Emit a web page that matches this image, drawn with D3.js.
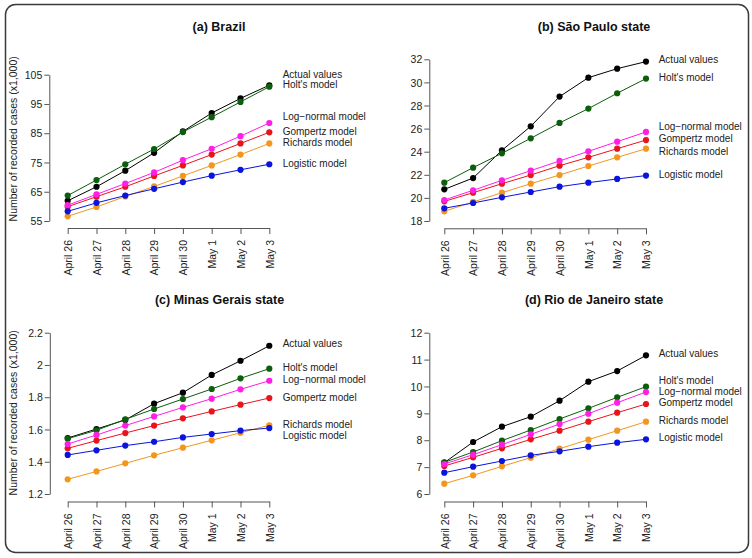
<!DOCTYPE html>
<html>
<head>
<meta charset="utf-8">
<script src="https://cdn.jsdelivr.net/npm/d3@7"></script>
<style>
  html, body { margin: 0; padding: 0; background: #fff; }
  svg text { font-family: "Liberation Sans", Arial, Helvetica, sans-serif; fill: #222; }
</style>
</head>
<body>
<svg id="chart" width="752" height="558"></svg>
<script>
// ---------- DATA ----------
const dates = ["April 26", "April 27", "April 28", "April 29", "April 30", "May 1", "May 2", "May 3"];
const seriesNames = ["Actual values", "Holt's model", "Log\u2212normal model", "Gompertz model", "Richards model", "Logistic model"];
const seriesColors = ["#000000", "#0b5e0b", "#ff1ee6", "#e8141c", "#f2961e", "#0a14dc"];

// (a) Brazil
const brazilActual    = [61.9, 66.7, 72.2, 78.3, 85.6, 91.9, 96.9, 101.4];
const brazilHolt      = [63.7, 69.0, 74.4, 79.6, 85.4, 90.5, 95.7, 100.9];
const brazilLogNormal = [60.4, 64.1, 67.8, 71.6, 75.8, 79.7, 84.0, 88.5];
const brazilGompertz  = [59.9, 63.3, 66.7, 70.4, 74.0, 77.7, 81.5, 85.3];
const brazilRichards  = [56.6, 59.8, 63.4, 66.8, 70.4, 74.0, 77.7, 81.5];
const brazilLogistic  = [58.3, 61.2, 63.7, 66.0, 68.3, 70.5, 72.5, 74.4];
const brazilLabelY    = [104.9, 101.5, 90.6, 85.6, 81.8, 74.8];
const brazilTicks     = [55, 65, 75, 85, 95, 105];

// (b) São Paulo state
const spActual    = [20.74, 21.72, 24.12, 26.20, 28.77, 30.41, 31.19, 31.80];
const spHolt      = [21.32, 22.62, 23.86, 25.16, 26.49, 27.73, 29.06, 30.33];
const spLogNormal = [19.82, 20.66, 21.52, 22.36, 23.20, 24.03, 24.87, 25.71];
const spGompertz  = [19.70, 20.45, 21.23, 21.98, 22.79, 23.51, 24.26, 25.01];
const spRichards  = [18.84, 19.65, 20.45, 21.23, 21.98, 22.76, 23.51, 24.26];
const spLogistic  = [19.10, 19.56, 20.05, 20.51, 20.97, 21.32, 21.64, 21.93];
const spLabelY    = [31.94, 30.41, 26.2, 25.1, 24.06, 22.04];
const spTicks     = [18, 20, 22, 24, 26, 28, 30, 32];

// (c) Minas Gerais state
const mgActual    = [1.547, 1.603, 1.659, 1.760, 1.828, 1.938, 2.026, 2.119];
const mgHolt      = [1.543, 1.595, 1.663, 1.727, 1.789, 1.851, 1.917, 1.977];
const mgLogNormal = [1.510, 1.566, 1.624, 1.681, 1.737, 1.791, 1.849, 1.902];
const mgGompertz  = [1.483, 1.531, 1.578, 1.624, 1.669, 1.712, 1.754, 1.795];
const mgRichards  = [1.291, 1.340, 1.390, 1.440, 1.487, 1.533, 1.580, 1.626];
const mgLogistic  = [1.442, 1.471, 1.500, 1.524, 1.551, 1.572, 1.593, 1.609];
const mgLabelY    = [2.130, 1.985, 1.911, 1.801, 1.632, 1.564];
const mgTicks     = [1.2, 1.4, 1.6, 1.8, 2.0, 2.2];

// (d) Rio de Janeiro state
const rjActual    = [7.165, 7.934, 8.504, 8.876, 9.471, 10.178, 10.574, 11.157];
const rjHolt      = [7.178, 7.562, 7.984, 8.380, 8.789, 9.186, 9.595, 9.992];
const rjLogNormal = [7.116, 7.463, 7.835, 8.219, 8.603, 8.988, 9.397, 9.793];
const rjGompertz  = [7.041, 7.364, 7.698, 8.033, 8.355, 8.690, 9.025, 9.347];
const rjRichards  = [6.384, 6.694, 7.029, 7.351, 7.686, 8.021, 8.355, 8.690];
const rjLogistic  = [6.793, 7.017, 7.227, 7.438, 7.587, 7.760, 7.909, 8.033];
const rjLabelY    = [11.21, 10.22, 9.83, 9.41, 8.752, 8.095];
const rjTicks     = [6, 7, 8, 9, 10, 11, 12];

const panelTitles = ["(a) Brazil", "(b) S\u00e3o Paulo state", "(c) Minas Gerais state", "(d) Rio de Janeiro state"];
const yAxisTitle = "Number of recorded cases (x1,000)";

// ---------- LAYOUT ----------
const panels = [
  { title: panelTitles[0], series: [brazilActual, brazilHolt, brazilLogNormal, brazilGompertz, brazilRichards, brazilLogistic],
    labelY: brazilLabelY, ticks: brazilTicks, yRange: [221, 74.7], axisX: 49.3, xRange: [67.7, 269.3], xAxisY: 228,
    labelX: 282.7, titleX: 219, titleY: 30.5, yTitle: true },
  { title: panelTitles[1], series: [spActual, spHolt, spLogNormal, spGompertz, spRichards, spLogistic],
    labelY: spLabelY, ticks: spTicks, yRange: [221, 59.3], axisX: 429.3, xRange: [444.3, 646], xAxisY: 228.3,
    labelX: 658.7, titleX: 594, titleY: 30.5, yTitle: false },
  { title: panelTitles[2], series: [mgActual, mgHolt, mgLogNormal, mgGompertz, mgRichards, mgLogistic],
    labelY: mgLabelY, ticks: mgTicks, yRange: [494, 332.7], axisX: 49.8, xRange: [67.7, 269.3], xAxisY: 501.5,
    labelX: 282.7, titleX: 219.5, titleY: 304, yTitle: true },
  { title: panelTitles[3], series: [rjActual, rjHolt, rjLogNormal, rjGompertz, rjRichards, rjLogistic],
    labelY: rjLabelY, ticks: rjTicks, yRange: [494, 332.7], axisX: 429.3, xRange: [444.3, 646], xAxisY: 501.5,
    labelX: 658.7, titleX: 594, titleY: 304, yTitle: false }
];

const svg = d3.select("#chart");
const drawOrder = [0, 1, 3, 2, 4, 5];

panels.forEach(p => {
  const g = svg.append("g");
  const x = d3.scalePoint().domain(dates).range(p.xRange);
  const y = d3.scaleLinear().domain(d3.extent(p.ticks)).range(p.yRange);

  // title
  g.append("text").attr("x", p.titleX).attr("y", p.titleY)
    .attr("text-anchor", "middle").attr("font-size", "12.5px").attr("font-weight", "bold")
    .style("fill", "#111").text(p.title);

  // y axis
  const yAxis = d3.axisLeft(y).tickValues(p.ticks).tickSize(5).tickSizeOuter(0).tickPadding(2)
    .tickFormat(d3.format("~g"));
  const gy = g.append("g").attr("transform", `translate(${p.axisX},0)`).call(yAxis);
  gy.selectAll("path, line").attr("stroke", "#555");
  gy.selectAll("text").attr("font-size", "10.5px").attr("dy", "0.35em").style("fill", "#222");
  gy.attr("font-family", null);

  // x axis
  const xAxis = d3.axisBottom(x).tickSize(6).tickSizeOuter(0);
  const gx = g.append("g").attr("transform", `translate(0,${p.xAxisY})`).call(xAxis);
  gx.selectAll("path, line").attr("stroke", "#555");
  gx.selectAll("text").attr("font-size", "10.5px")
    .attr("text-anchor", "end").attr("transform", "rotate(-90)")
    .attr("x", -12).attr("y", 0).attr("dy", "0.36em").style("fill", "#222");
  gx.attr("font-family", null);

  // y axis title
  if (p.yTitle) {
    const cy = (p.yRange[0] + p.yRange[1]) / 2 + (p.yRange[0] > 300 ? -0.5 : -9);
    g.append("text").attr("transform", `translate(13.5,${cy}) rotate(-90)`)
      .attr("text-anchor", "middle").attr("dy", "0.35em").attr("font-size", "10.5px")
      .text(yAxisTitle);
  }

  // series
  const line = d3.line().x((d, i) => x(dates[i])).y(d => y(d));
  drawOrder.forEach(si => {
    const vals = p.series[si];
    g.append("path").datum(vals).attr("d", line)
      .attr("fill", "none").attr("stroke", seriesColors[si]).attr("stroke-width", 1);
    g.selectAll(null).data(vals).enter().append("circle")
      .attr("cx", (d, i) => x(dates[i])).attr("cy", d => y(d)).attr("r", 3.1)
      .attr("fill", seriesColors[si]);
  });

  // series labels
  g.selectAll(null).data(seriesNames).enter().append("text")
    .attr("x", p.labelX).attr("y", (d, i) => y(p.labelY[i]))
    .attr("dy", "0.35em").attr("font-size", "10px").text(d => d);
});

// outer frame
svg.append("rect").attr("x", 5.5).attr("y", 4.5).attr("width", 743).attr("height", 548)
  .attr("rx", 10).attr("ry", 10).attr("fill", "none").attr("stroke", "#3a3a3a").attr("stroke-width", 1.5);
</script>
</body>
</html>
